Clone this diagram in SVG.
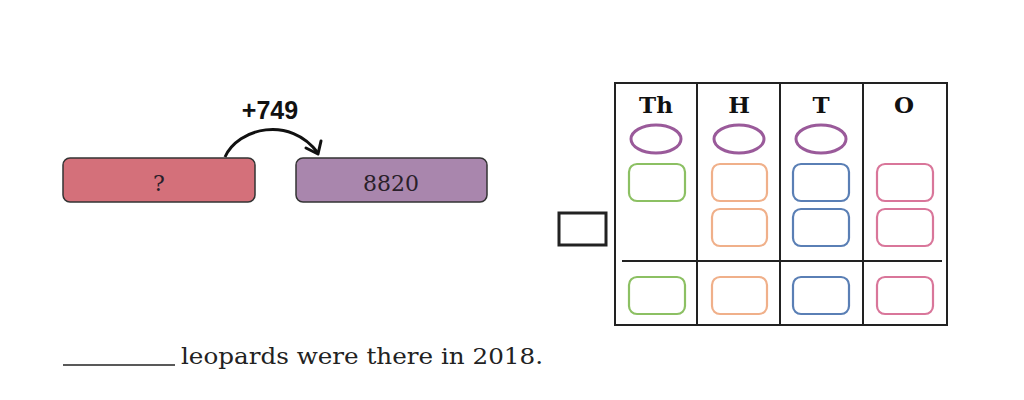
<svg xmlns="http://www.w3.org/2000/svg" width="1024" height="400" viewBox="0 0 1024 400">
<defs>
<style>
.bar{stroke:#333;stroke-width:1.5}
.lbl{font-family:"DejaVu Serif","Liberation Serif",serif;font-size:22px;fill:#2a1f2a;text-anchor:middle}
.hdr{font-family:"DejaVu Serif","Liberation Serif",serif;font-weight:bold;font-size:23px;fill:#111;text-anchor:middle}
.ov{fill:none;stroke:#9a5a9a;stroke-width:3}
.cell{fill:none;stroke-width:2.2}
.g{stroke:#8cc063}.o{stroke:#f0b08a}.b{stroke:#5a7fb5}.p{stroke:#d9769a}
.grid{stroke:#222;stroke-width:2;fill:none}
</style>
</defs>
<rect width="1024" height="400" fill="#fff"/>

<g id="node-unknown">
<rect x="63" y="158" width="192" height="44" rx="7" fill="#d4707a" class="bar"/>
<text x="159" y="191" class="lbl">?</text>
</g>
<g id="node-8820">
<rect x="296" y="158" width="191" height="44" rx="7" fill="#a986ad" class="bar"/>
<text x="391" y="191" class="lbl">8820</text>
</g>
<g id="connectors">
<path d="M225,157 C238,128 290,115 318,153" fill="none" stroke="#111" stroke-width="3"/>
<path d="M306,148 L318,154 L321,141" fill="none" stroke="#111" stroke-width="3" stroke-linecap="round" stroke-linejoin="round"/>
<text x="270" y="119" font-family="'Liberation Sans',Arial,sans-serif" font-weight="bold" font-size="25" fill="#111" text-anchor="middle">+749</text>
</g>

<g id="small-box">
<rect x="559" y="213" width="47" height="32" fill="none" stroke="#222" stroke-width="3"/>
</g>

<g id="place-value-chart">
<rect x="615" y="83" width="332" height="242" class="grid"/>
<line x1="697" y1="83" x2="697" y2="325" class="grid"/>
<line x1="780" y1="83" x2="780" y2="325" class="grid"/>
<line x1="863" y1="83" x2="863" y2="325" class="grid"/>
<line x1="622" y1="261" x2="942" y2="261" class="grid"/>
<text x="656" y="113" class="hdr">Th</text>
<text x="739" y="113" class="hdr">H</text>
<text x="821" y="113" class="hdr">T</text>
<text x="904" y="113" class="hdr">O</text>
<ellipse cx="656" cy="139" rx="25" ry="14" class="ov"/>
<ellipse cx="739" cy="139" rx="25" ry="14" class="ov"/>
<ellipse cx="821" cy="139" rx="25" ry="14" class="ov"/>
<rect x="629" y="164" width="56" height="37" rx="8" class="cell g"/>
<rect x="712" y="164" width="55" height="37" rx="8" class="cell o"/>
<rect x="712" y="209" width="55" height="37" rx="8" class="cell o"/>
<rect x="793" y="164" width="56" height="37" rx="8" class="cell b"/>
<rect x="793" y="209" width="56" height="37" rx="8" class="cell b"/>
<rect x="877" y="164" width="56" height="37" rx="8" class="cell p"/>
<rect x="877" y="209" width="56" height="37" rx="8" class="cell p"/>
<rect x="629" y="277" width="56" height="37" rx="8" class="cell g"/>
<rect x="712" y="277" width="55" height="37" rx="8" class="cell o"/>
<rect x="793" y="277" width="56" height="37" rx="8" class="cell b"/>
<rect x="877" y="277" width="56" height="37" rx="8" class="cell p"/>
</g>

<g id="sentence">
<line x1="63" y1="365" x2="175" y2="365" stroke="#222" stroke-width="1.5"/>
<text x="181" y="364" font-family="'DejaVu Serif','Liberation Serif',serif" font-size="22" fill="#222" textLength="362" lengthAdjust="spacingAndGlyphs">leopards were there in 2018.</text>
</g>
</svg>
